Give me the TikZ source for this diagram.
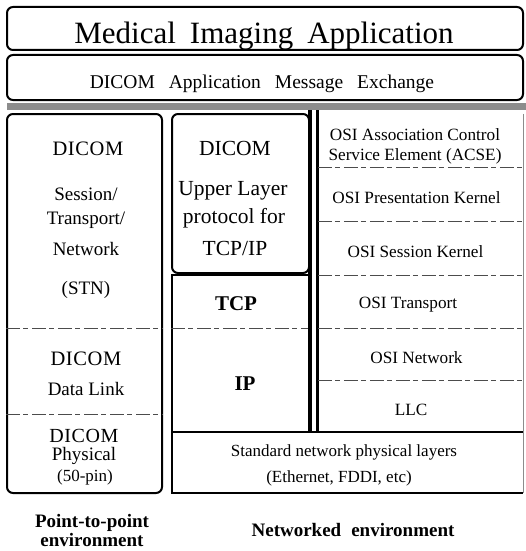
\documentclass[tikz,border=0pt]{standalone}
\usepackage{fontspec}
\setmainfont{Liberation Serif}
\newfontfamily\trkfont[LetterSpace=3]{Liberation Serif}
\newcommand\myfs[1]{\fontsize{#1}{#1}\selectfont}
\begin{document}
\begin{tikzpicture}[x=1pt,y=-1pt,
  box/.style={draw, line width=2pt, inner sep=0pt, rounded corners=6pt},
  sqbox/.style={draw, line width=2pt, inner sep=0pt},
  lbl/.style={anchor=base, inner sep=0pt},
  dsh/.style={line width=0.8pt, black!70, dash pattern=on 14pt off 3pt on 5pt off 4pt},
  lft/.style={lbl, font=\myfs{19}},
  mid/.style={lbl, font=\myfs{21.5}},
  osit/.style={lbl, font=\myfs{17.2}},
  bot/.style={lbl, font=\myfs{17}},
  env/.style={lbl, font=\bfseries\myfs{19}}]
\useasboundingbox (0,0) rectangle (526,551);

% top boxes
\node[box, minimum width=516, minimum height=43] (app) at (265,28.5) {};
\node[lbl, font=\myfs{31}] (appT) at (264,44) {Medical\hspace{14pt}Imaging\hspace{14pt}Application};
\node[box, minimum width=516, minimum height=45] (msg) at (265,77.5) {};
\node[lbl, font=\myfs{19.5}] (msgT) at (262,88) {DICOM\hspace{14pt}Application\hspace{14pt}Message\hspace{14pt}Exchange};
\node[fill=black!45, inner sep=0pt, minimum width=519, minimum height=7] (band) at (266.5,106.5) {};

% left column (point-to-point)
\node[box, minimum width=155, minimum height=379] (lbox) at (84.5,303.5) {};
\draw[dsh] (lbox.west |- 0,328) -- (lbox.east |- 0,328);
\draw[dsh] (lbox.west |- 0,414) -- (lbox.east |- 0,414);
\node[lbl, font=\trkfont\myfs{20.5}] (l1) at (88,155) {DICOM};
\node[lft] (l2) at (86,200) {Session/};
\node[lft] (l3) at (86,224) {Transport/};
\node[lft] (l4) at (86,255) {Network};
\node[lft] (l5) at (86,294) {(STN)};
\node[lbl, font=\trkfont\myfs{20.5}] (l6) at (86,365) {DICOM};
\node[lft] (l7) at (86,395) {Data Link};
\node[lbl, font=\trkfont\myfs{20}] (l8) at (84,442) {DICOM};
\node[lft] (l9) at (84,460) {Physical};
\node[lbl, font=\myfs{17}] (l10) at (85,481) {(50-pin)};

% middle column (TCP/IP)
\node[box, minimum width=137, minimum height=159] (ulbox) at (240.5,193.5) {};
\node[sqbox, minimum width=137, minimum height=157] (tcpbox) at (240.5,353.5) {};
\draw[dsh] (tcpbox.west |- 0,328) -- (tcpbox.east |- 0,328);
\node[mid] (m1) at (235,155) {DICOM};
\node[mid] (m2) at (233,195) {Upper Layer};
\node[mid] (m3) at (234,223) {protocol for};
\node[mid] (m4) at (235,255) {TCP/IP};
\node[lbl, font=\bfseries\myfs{21}] (m5) at (236,310) {TCP};
\node[lbl, font=\bfseries\myfs{21}] (m6) at (245,390) {IP};

% right column (OSI)
\node[inner sep=0pt, minimum width=205, minimum height=318] (osi) at (420.5,273) {};
\draw[line width=3.5pt] (ulbox.north east |- band.south) -- (tcpbox.south east);
\draw[line width=3pt] (osi.north west |- band.south) -- (osi.south west);
\foreach \yy in {167,221,275,328,380}
  \draw[dsh] (osi.west |- 0,\yy) -- (osi.east |- 0,\yy);
\node[osit] (o1) at (415,140) {OSI Association Control};
\node[osit] (o2) at (415,160) {Service Element (ACSE)};
\node[osit] (o3) at (416.5,203) {OSI Presentation Kernel};
\node[osit] (o4) at (415.5,257) {OSI Session Kernel};
\node[osit] (o5) at (408,308) {OSI Transport};
\node[osit] (o6) at (416.5,363) {OSI Network};
\node[osit] (o7) at (411,415) {LLC};

% bottom physical box
\node[inner sep=0pt, minimum width=351, minimum height=61] (phys) at (347.5,462.5) {};
\draw[line width=2pt] (phys.north east) -- (phys.north west) -- (phys.south west) -- (phys.south east);
\draw[line width=0.6pt, black!45] (osi.north east) -- (phys.south east);
\node[bot] (p1) at (344,456) {Standard network physical layers};
\node[bot] (p2) at (339,482) {(Ethernet, FDDI, etc)};

% environment labels
\node[env] (e1) at (92,527) {Point-to-point};
\node[env] (e2) at (92,546) {environment};
\node[env] (e3) at (353,536) {Networked\hspace{10pt}environment};
\end{tikzpicture}
\end{document}
